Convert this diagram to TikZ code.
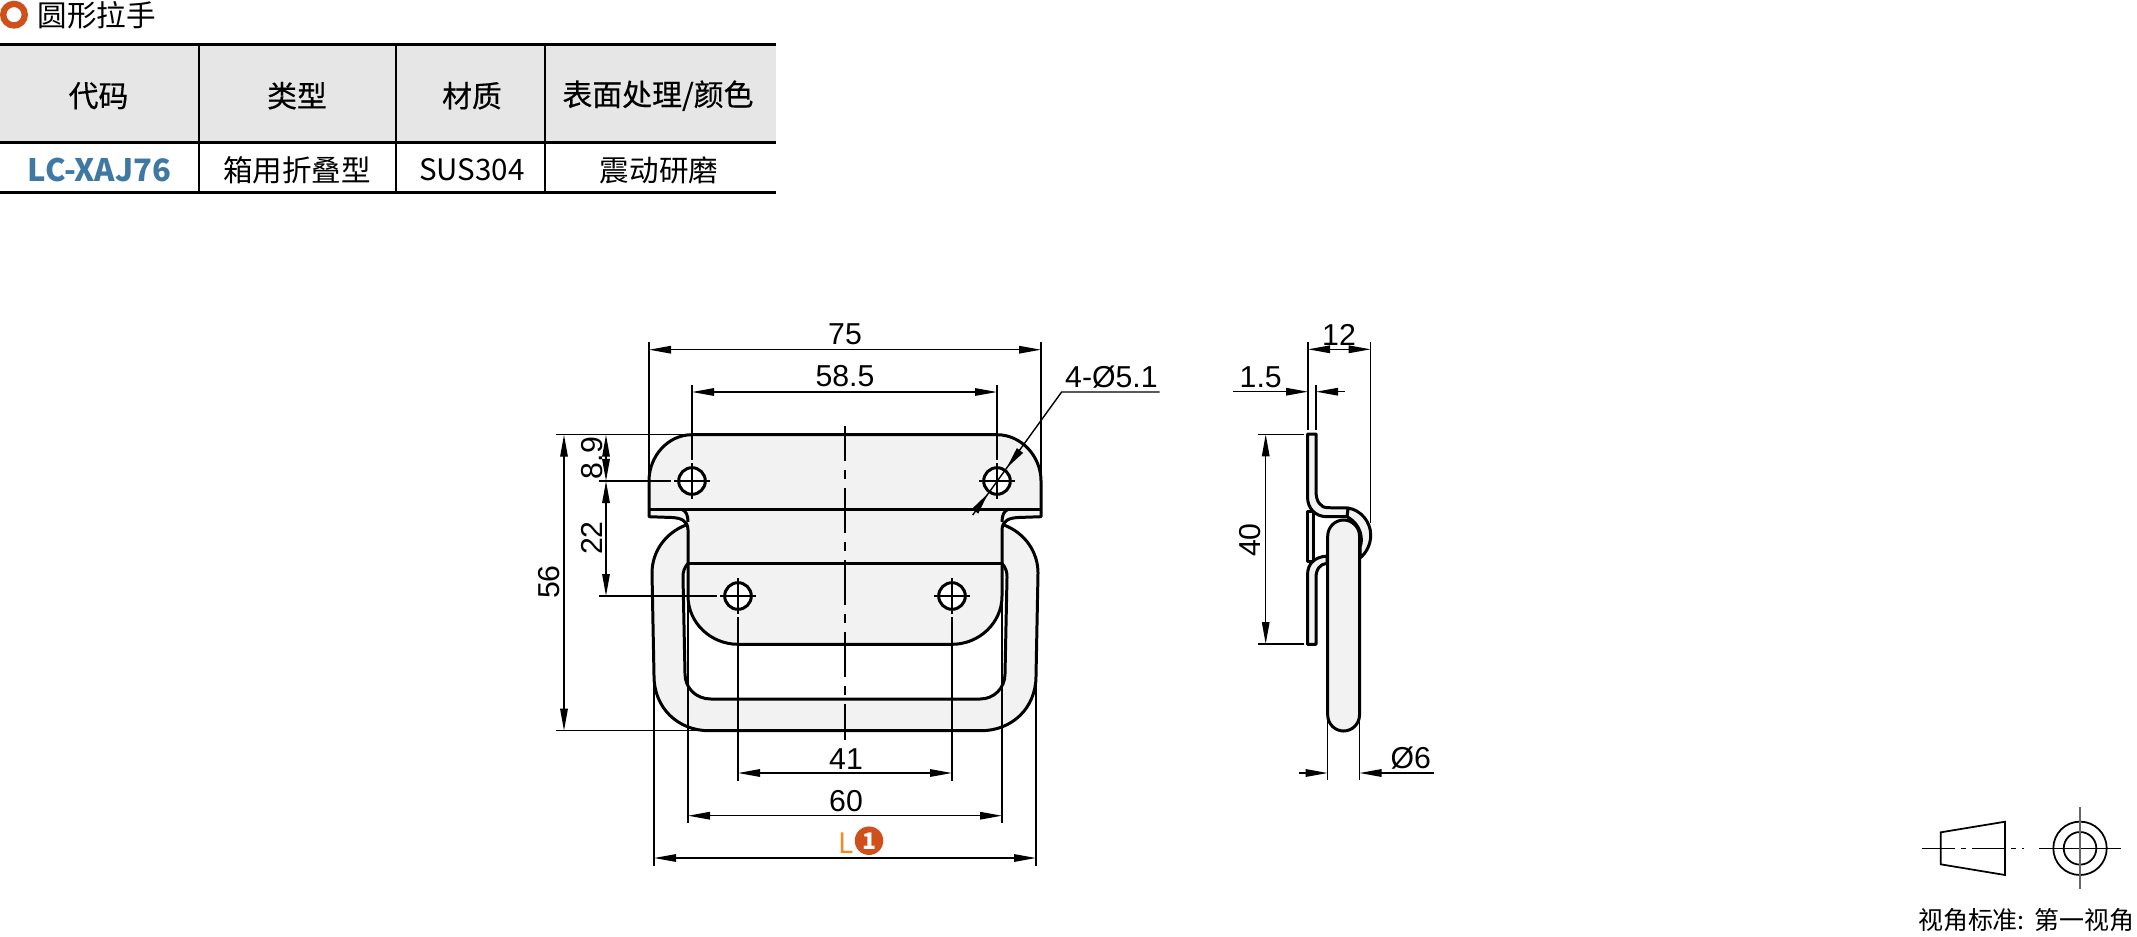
\documentclass[tikz,border=0pt]{standalone}
\usepackage{fontspec}
\setmainfont{Liberation Sans}
\newfontfamily\cjk{Noto Sans CJK SC}
\newfontfamily\cjkmed[FakeBold=0.4]{Noto Sans CJK SC}
\usetikzlibrary{arrows.meta}
\definecolor{partgray}{HTML}{F2F2F2}
\definecolor{headgray}{HTML}{E6E6E6}
\definecolor{markred}{HTML}{D0501C}
\definecolor{codeblue}{HTML}{3F79A3}
\definecolor{lorange}{HTML}{F58A20}
\tikzset{
    outline/.style={line width=0.85pt, line join=round},
    thinline/.style={line width=0.4pt},
    dimline/.style={thinline, {Triangle[length=2.2mm,width=0.75mm]}-{Triangle[length=2.2mm,width=0.75mm]}},
    tiponly/.style={thinline, -{Triangle[length=2.2mm,width=0.75mm]}},
    chain/.style={thinline, dash pattern=on 0.45cm off 0.09cm on 0.09cm off 0.09cm, dash phase=0.1cm},
    dimtext/.style={inner sep=0pt, font=\fontsize{8.6}{10}\selectfont},
    headtext/.style={inner sep=0pt, font=\cjkmed\fontsize{8.5}{10}\selectfont},
    celltext/.style={inner sep=0pt, font=\cjk\fontsize{8.4}{10}\selectfont},
}
\begin{document}
\begin{tikzpicture}[x=0.01cm, y=-0.01cm]
    \useasboundingbox (0,0) rectangle (2137,936);
    % Draw title
    \draw [markred, line width=1.8pt] (14,14.7) circle (10.8);
    \node [celltext, anchor=west] (title) at (37,15) {圆形拉手};
    % Draw table
    \fill [headgray] (0,44) rectangle (775.5,142);
    \draw [line width=0.85pt] (0,44.3) -- (775.5,44.3);
    \draw [line width=0.85pt] (0,142.3) -- (775.5,142.3);
    \draw [line width=0.85pt] (0,192.7) -- (775.5,192.7);
    \draw [line width=0.7pt] (199,44) -- (199,193);
    \foreach \x in {396,545} {
        \draw [thinline] (\x,44) -- (\x,193);
    }
    \foreach \x/\name/\txt in {98.5/hcode/代码, 297/htype/类型, 472/hmat/材质, 658/hfin/{表面处理/颜色}} {
        \node [headtext] (\name) at (\x,95.7) {\txt};
    }
    \node [celltext, font=\cjk\bfseries\fontsize{8.8}{10}\selectfont, text=codeblue] (ccode) at (99.5,170) {LC-XAJ76};
    \foreach \x/\name/\txt in {297/ctype/箱用折叠型, 472/cmat/SUS304, 659/cfin/震动研磨} {
        \node [celltext] (\name) at (\x,170) {\txt};
    }
    % Draw handle ring
    \draw [outline, fill=partgray] (686,525) .. controls (665,533) and (652,552) .. (652,573)
        -- (654,676) .. controls (654,708) and (678,730.7) .. (709,730.7)
        -- (981,730.7) .. controls (1012,730.7) and (1036,708) .. (1036,676)
        -- (1038,573) .. controls (1038,552) and (1025,533) .. (1004,525);
    \draw [outline, fill=white] (688,563.3) .. controls (684,568) and (683,572) .. (683,577)
        -- (685,674) .. controls (685,688) and (696,699) .. (711,699)
        -- (980,699) .. controls (994,699) and (1005,688) .. (1005,674)
        -- (1007,577) .. controls (1007,572) and (1006,568) .. (1002,563.3);
    % Draw plate
    \draw [outline, fill=partgray] (649,481) .. controls (649,456) and (668,434.7) .. (692,434.7)
        -- (997,434.7) .. controls (1021,434.7) and (1041,456) .. (1041,481)
        -- (1041,516.7) -- (1018,517.5) .. controls (1010,518) and (1002,520) .. (1002,530)
        -- (1002,596) .. controls (1002,623) and (979,644.3) .. (952,644.3)
        -- (738,644.3) .. controls (711,644.3) and (688,623) .. (688,596)
        -- (688,530) .. controls (688,520) and (680,518) .. (672,517.5)
        -- (649,516.7) -- cycle;
    \draw [outline] (649,509) -- (1041,509);
    \draw [outline] (688,563.3) -- (1002,563.3);
    \draw [outline] (682,509.5) .. controls (686,511) and (688,515) .. (688,522);
    \draw [outline] (1008,509.5) .. controls (1004,511) and (1002,515) .. (1002,522);
    % Draw holes
    \foreach \x/\y in {692/481, 997/481, 738/596, 952/596} {
        \draw [outline, fill=white] (\x,\y) circle (13.3);
        \draw [thinline] (\x-18,\y) -- (\x+18,\y);
        \draw [thinline] (\x,\y-18) -- (\x,\y+18);
    }
    % Draw center line
    \draw [chain] (845,426) -- (845,740);
    % Draw extension lines
    \draw [thinline] (649,342) -- (649,481);
    \draw [thinline] (1041,342) -- (1041,481);
    \draw [thinline] (692,385) -- (692,460);
    \draw [thinline] (997,385) -- (997,460);
    \draw [thinline] (556,434.7) -- (692,434.7);
    \draw [thinline] (599,481) -- (671,481);
    \draw [thinline] (599,596) -- (717,596);
    \draw [thinline] (556,730.7) -- (709,730.7);
    \foreach \x in {738,952} {
        \draw [thinline] (\x,617) -- (\x,781);
    }
    \foreach \x in {688,1002} {
        \draw [thinline] (\x,596) -- (\x,823);
    }
    \draw [thinline] (654,676) -- (654,866);
    \draw [thinline] (1036,676) -- (1036,866);
    % Draw scale
    \foreach \xa/\xb/\y/\txt/\name in {649/1041/349.7/75/dtotal, 692/997/392/58.5/dholes} {
        \draw [dimline] (\xa,\y) -- (\xb,\y);
        \node [dimtext] (\name) at (845,\y-15.5) {\txt};
    }
    \foreach \xa/\xb/\y/\ty/\txt/\name in {738/952/773/759/41/dlow, 688/1002/815.7/800.7/60/dinner} {
        \draw [dimline] (\xa,\y) -- (\xb,\y);
        \node [dimtext] (\name) at (846,\ty) {\txt};
    }
    \draw [dimline] (654,858) -- (1036,858);
    \foreach \x/\ya/\yb/\ty/\tx/\txt/\name in {564/434.7/730.7/582/549/56/dheight, 606/434.7/481/458/592/8.9/dfirst, 606/481/596/538/592/22/dsecond} {
        \draw [dimline] (\x,\ya) -- (\x,\yb);
        \node [dimtext, rotate=90] (\name) at (\tx,\ty) {\txt};
    }
    % Draw hole leader
    \draw [thinline] (1159.6,392) -- (1061.6,392) -- (972.7,515);
    \draw [tiponly] (1019,451.8) -- (1006.6,468);
    \draw [tiponly] (976,510) -- (988,493.4);
    \node [dimtext, anchor=west] (dhole) at (1064.5,376.7) {4-Ø5.1};
    % Draw L mark
    \node [inner sep=0pt, text=lorange, font=\cjk\fontsize{8}{10}\selectfont] (lmark) at (846,843) {L};
    \node [circle, fill=markred, minimum size=0.285cm, inner sep=0pt, text=white, font=\cjk\bfseries\fontsize{6.5}{7}\selectfont] (lnum) at (869,840.7) {1};
    % Draw side view
    \draw [outline, fill=partgray] (1348,508) .. controls (1361,510) and (1370.7,522) .. (1370.7,535)
        .. controls (1370.7,545) and (1366,553) .. (1360,558) -- (1360,547)
        .. controls (1363,540) and (1362,525) .. (1347,516.7) -- cycle;
    \draw [outline, fill=partgray] (1307.5,434) -- (1316,434) -- (1316,491)
        .. controls (1316,501) and (1320,507.7) .. (1328,507.7) -- (1348,508) -- (1347,516.7) -- (1327,516.7)
        .. controls (1315,516.7) and (1307.5,508) .. (1307.5,497) -- cycle;
    \draw [outline, fill=partgray] (1327,556) .. controls (1315,557) and (1307.5,563) .. (1307.5,575)
        -- (1307.5,644.3) -- (1316,644.3) -- (1316,578) .. controls (1316,569) and (1320,564) .. (1327,563.3) -- cycle;
    \draw [outline, fill=partgray] (1307.5,511) rectangle (1313,561);
    \draw [outline, fill=partgray] (1327.7,536) .. controls (1327.7,527) and (1335,520) .. (1343.6,520)
        .. controls (1352,520) and (1359.5,527) .. (1359.5,536) -- (1359.5,715)
        .. controls (1359.5,724) and (1352,731) .. (1343.6,731)
        .. controls (1335,731) and (1327.7,724) .. (1327.7,715) -- cycle;
    % Draw side view scale
    \draw [thinline] (1308,342) -- (1308,430);
    \draw [thinline] (1316,385) -- (1316,430);
    \draw [thinline] (1370.7,342) -- (1370.7,523);
    \draw [dimline] (1308,349.3) -- (1370.7,349.3);
    \node [dimtext] (dreach) at (1339,335) {12};
    \draw [tiponly] (1233,391.7) -- (1308,391.7);
    \draw [tiponly] (1344.7,391.7) -- (1316,391.7);
    \node [dimtext] (dthick) at (1260.7,377.7) {1.5};
    \draw [thinline] (1258,434.3) -- (1304,434.3);
    \draw [thinline] (1258,644) -- (1304,644);
    \draw [dimline] (1265.7,434.3) -- (1265.7,644);
    \node [dimtext, rotate=90] (dstrip) at (1250,540) {40};
    \draw [thinline] (1327.7,716) -- (1327.7,780);
    \draw [thinline] (1359.5,716) -- (1359.5,780);
    \draw [tiponly] (1299.3,773) -- (1327.7,773);
    \draw [tiponly] (1434,773) -- (1359.5,773);
    \node [dimtext] (dround) at (1410.7,758) {Ø6};
    % Draw projection symbol
    \draw [line width=0.5pt] (1940.7,832.3) -- (2005,821.7) -- (2005,875) -- (1940.7,864.3) -- cycle;
    \draw [thinline, dash pattern=on 0.33cm off 0.06cm on 0.05cm off 0.06cm] (1922.3,848.3) -- (2024,848.3);
    \draw [line width=0.5pt] (2080,848.3) circle (26.7);
    \draw [line width=0.5pt] (2080,848.3) circle (16.3);
    \draw [thinline] (2039,848.3) -- (2121,848.3);
    \draw [thinline, black!60] (2080,807) -- (2080,889);
    \node [celltext, font=\cjk\fontsize{7.1}{9}\selectfont, anchor=east] (angle) at (2135,920) {视角标准:\hspace{0.6pt} 第一视角};
\end{tikzpicture}
\end{document}
